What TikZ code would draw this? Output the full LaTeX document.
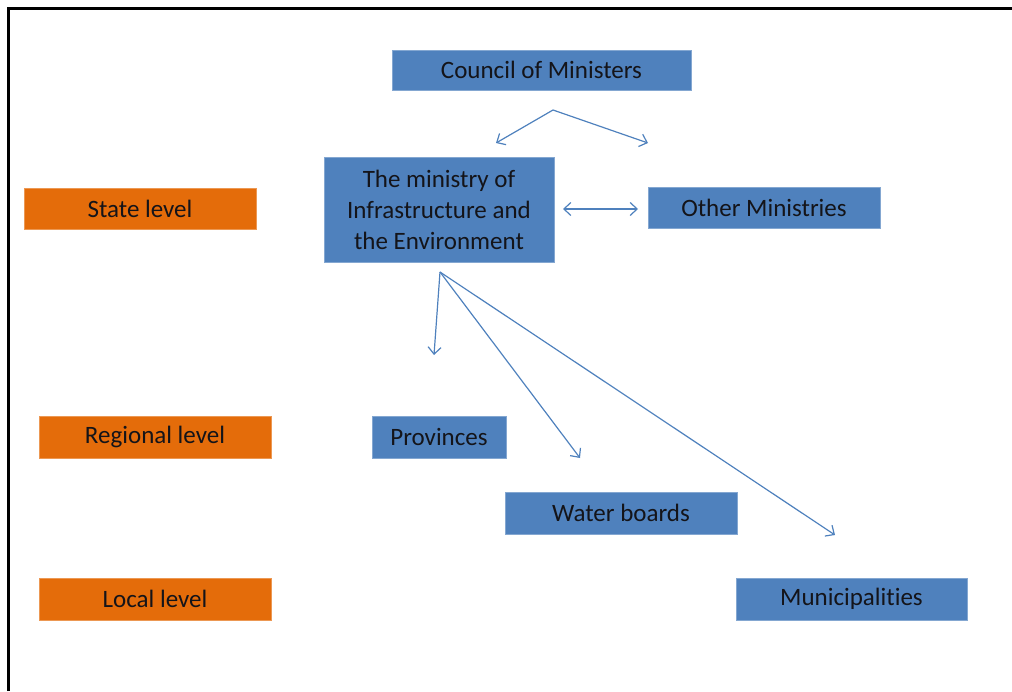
\documentclass[tikz,border=0pt]{standalone}
\usepackage{fontspec}
\setmainfont{Carlito}[Ligatures=NoCommon]
\usetikzlibrary{arrows.meta}
\definecolor{boxblue}{RGB}{79,129,189}
\definecolor{boxorange}{RGB}{228,108,10}
\definecolor{boxtext}{RGB}{20,20,25}
\tikzset{
  orgbox/.style={rectangle, fill=boxblue, draw=boxblue!70!white, line width=0.6pt, inner sep=0pt, text=boxtext, font=\fontsize{25}{31}\selectfont, align=flush center},
  levelbox/.style={orgbox, fill=boxorange, draw=boxorange!70!white},
  link/.style={draw=boxblue, line width=1.2pt, -{Straight Barb[length=7pt,width=13pt]}},
}
\begin{document}
\begin{tikzpicture}[x=1pt,y=-1pt]
			%%%%% START %%%%%
			\useasboundingbox (0,0) rectangle (1012,691);
			\draw[line width=3pt] (8,691) -- (8,8) -- (1012,8);
			
			% levels
			\node[levelbox, minimum width=232pt, minimum height=41pt] (state) at (140,208.5) {State level};
			\node[levelbox, minimum width=232pt, minimum height=42pt] (regional) at (155,437) {Regional level};
			\node[levelbox, minimum width=232pt, minimum height=42pt] (local) at (155,599) {Local level};
			
			% organisations
			\node[orgbox, minimum width=299pt, minimum height=40pt] (council) at (541.5,70) {Council of Ministers};
			\node[orgbox, minimum width=230pt, minimum height=105pt, text width=228pt] (ministry) at (439,209.5) {The ministry of\\Infrastructure and\\the Environment};
			\node[orgbox, minimum width=232pt, minimum height=41pt] (others) at (764,207.5) {Other Ministries};
			\node[orgbox, minimum width=134pt, minimum height=42pt] (provinces) at (439,437) {Provinces};
			\node[orgbox, minimum width=232pt, minimum height=42pt] (water) at (621,513) {Water boards};
			\node[orgbox, minimum width=231pt, minimum height=42pt] (munic) at (851.5,599) {Municipalities};
			
			% arrow ends
			\coordinate (cmfork) at (553,110);
			\coordinate (cmleft) at (496,143);
			\coordinate (cmright) at (648,143);
			\coordinate (minfork) at (440,272);
			\coordinate (toprov) at (434,355);
			\coordinate (towater) at (580,458);
			\coordinate (tomunic) at (835,535);
			\coordinate (pairleft) at (563,209);
			\coordinate (pairright) at (638,209);
			
			\draw[link] (cmfork) -- (cmleft);
			\draw[link] (cmfork) -- (cmright);
			\draw[link, {Straight Barb[length=7pt,width=13pt]}-{Straight Barb[length=7pt,width=13pt]}] (pairleft) -- (pairright);
			\draw[link] (minfork) -- (toprov);
			\draw[link] (minfork) -- (towater);
			\draw[link] (minfork) -- (tomunic);
			%%%%% END %%%%%
		\end{tikzpicture}
\end{document}
